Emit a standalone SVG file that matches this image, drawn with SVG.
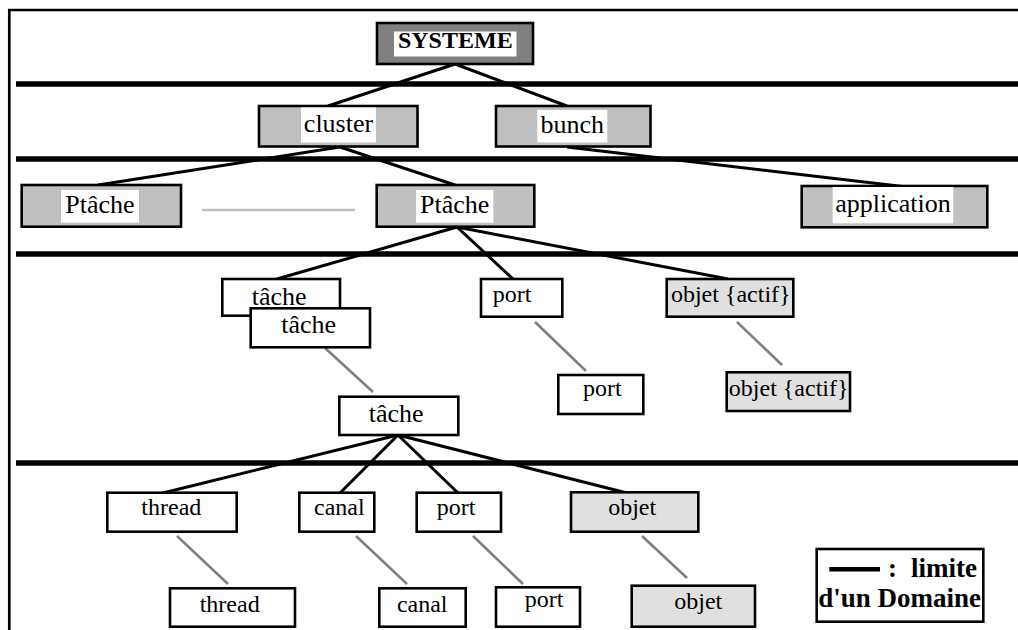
<svg xmlns="http://www.w3.org/2000/svg" width="1018" height="630" viewBox="0 0 1018 630">
  <style>
    .frame { fill: none; stroke: #000; stroke-width: 2.7; }
    .domain { stroke: #000; stroke-width: 5.5; }
    .link { stroke: #000; stroke-width: 3; fill: none; }
    .ref { stroke: #808080; stroke-width: 2.6; fill: none; }
    .sep { stroke: #c0c0c0; stroke-width: 2.6; }
    .box { stroke: #000; stroke-width: 2.6; }
    .sys { fill: #808080; }
    .grp { fill: #c0c0c0; }
    .plain { fill: #fff; }
    .obj { fill: #e0e0e0; }
    .lbl { fill: #fff; stroke: none; }
    text { font-family: "Liberation Serif", "Times New Roman", serif; fill: #000; text-anchor: middle; }
    .t26 { font-size: 26px; }
    .t24 { font-size: 24px; }
    .bold { font-weight: bold; }
  </style>

  <!-- outer frame: only top and left edges are visible -->
  <polyline class="frame" points="9.3,640 9.3,10 1030,10"/>

  <!-- domain boundaries -->
  <g id="domain-limits">
    <line class="domain" x1="16" y1="84" x2="1018" y2="84"/>
    <line class="domain" x1="16" y1="159" x2="1018" y2="159"/>
    <line class="domain" x1="16" y1="254" x2="1018" y2="254"/>
    <line class="domain" x1="16" y1="463" x2="1018" y2="463"/>
  </g>

  <!-- connectors -->
  <g id="connectors">
    <line class="link" x1="455" y1="64" x2="328" y2="106"/>
    <line class="link" x1="455" y1="64" x2="567" y2="106"/>
    <line class="link" x1="340" y1="147" x2="98" y2="185"/>
    <line class="link" x1="340" y1="147" x2="455" y2="185"/>
    <line class="link" x1="567" y1="147" x2="907" y2="187"/>
    <line class="link" x1="457" y1="227" x2="277" y2="279"/>
    <line class="link" x1="457" y1="227" x2="513" y2="279"/>
    <line class="link" x1="457" y1="227" x2="728" y2="279"/>
    <line class="link" x1="398" y1="435" x2="163" y2="493"/>
    <line class="link" x1="398" y1="435" x2="340" y2="493"/>
    <line class="link" x1="398" y1="435" x2="458" y2="493"/>
    <line class="link" x1="398" y1="435" x2="627" y2="493"/>

    <line class="sep" x1="202" y1="210" x2="355" y2="210"/>

    <line class="ref" x1="325" y1="348" x2="373" y2="392"/>
    <line class="ref" x1="535" y1="322" x2="586" y2="371"/>
    <line class="ref" x1="737" y1="322" x2="782" y2="365"/>
    <line class="ref" x1="177" y1="536" x2="228" y2="584"/>
    <line class="ref" x1="356" y1="536" x2="407" y2="584"/>
    <line class="ref" x1="473" y1="536" x2="523" y2="584"/>
    <line class="ref" x1="642" y1="536" x2="687" y2="578"/>
  </g>

  <!-- level 0 -->
  <g id="n-systeme">
    <rect class="box sys" x="377" y="23" width="156" height="41"/>
    <rect class="lbl" x="394" y="31.5" width="122.5" height="25"/>
    <text class="t24 bold" x="455.3" y="48.3">SYSTEME</text>
  </g>

  <!-- level 1 -->
  <g id="n-cluster">
    <rect class="box grp" x="259" y="106" width="158.5" height="40.5"/>
    <rect class="lbl" x="301" y="107.5" width="75" height="35"/>
    <text class="t26" x="338.5" y="131.7">cluster</text>
  </g>
  <g id="n-bunch">
    <rect class="box grp" x="496" y="106" width="154.5" height="40.5"/>
    <rect class="lbl" x="537.3" y="110" width="70" height="32.5"/>
    <text class="t26" x="572.3" y="132.7">bunch</text>
  </g>

  <!-- level 2 -->
  <g id="n-ptache-1">
    <rect class="box grp" x="21.7" y="185" width="159.3" height="41.7"/>
    <rect class="lbl" x="61" y="190" width="78" height="32.7"/>
    <text class="t26" x="100" y="213.3">Ptâche</text>
  </g>
  <g id="n-ptache-2">
    <rect class="box grp" x="376.7" y="185" width="157.6" height="41.7"/>
    <rect class="lbl" x="416" y="190" width="77.3" height="32.7"/>
    <text class="t26" x="454.7" y="213.3">Ptâche</text>
  </g>
  <g id="n-application">
    <rect class="box grp" x="801.7" y="186" width="185.6" height="41.3"/>
    <rect class="lbl" x="832.7" y="187" width="120.6" height="36.3"/>
    <text class="t26" x="893" y="211.7">application</text>
  </g>

  <!-- level 3 -->
  <g id="n-tache-1">
    <rect class="box plain" x="222.3" y="279" width="117.7" height="36.7"/>
    <text class="t26" x="279.2" y="305">tâche</text>
  </g>
  <g id="n-tache-2">
    <rect class="box plain" x="250.7" y="308.3" width="119.3" height="39"/>
    <text class="t26" x="308.7" y="333.3">tâche</text>
  </g>
  <g id="n-port-1">
    <rect class="box plain" x="481" y="279" width="81.3" height="37.7"/>
    <text class="t24" x="512" y="301.7">port</text>
  </g>
  <g id="n-objet-actif-1">
    <rect class="box obj" x="666.7" y="279" width="126.6" height="37.7"/>
    <text class="t24" x="730.8" y="301.7">objet {actif}</text>
  </g>
  <g id="n-port-2">
    <rect class="box plain" x="558.3" y="375" width="85" height="39"/>
    <text class="t24" x="602.3" y="396">port</text>
  </g>
  <g id="n-objet-actif-2">
    <rect class="box obj" x="726.7" y="372.3" width="123.3" height="38.7"/>
    <text class="t24" x="788.7" y="396">objet {actif}</text>
  </g>
  <g id="n-tache-3">
    <rect class="box plain" x="339.3" y="396.7" width="119" height="38.3"/>
    <text class="t26" x="396.2" y="421.7">tâche</text>
  </g>

  <!-- level 4 -->
  <g id="n-thread-1">
    <rect class="box plain" x="107.3" y="492.7" width="129.4" height="39"/>
    <text class="t24" x="171.3" y="515">thread</text>
  </g>
  <g id="n-canal-1">
    <rect class="box plain" x="299.3" y="492.7" width="75" height="39"/>
    <text class="t24" x="339.3" y="515">canal</text>
  </g>
  <g id="n-port-3">
    <rect class="box plain" x="416.7" y="492.7" width="84.3" height="39"/>
    <text class="t24" x="456.2" y="515">port</text>
  </g>
  <g id="n-objet-1">
    <rect class="box obj" x="571" y="492.3" width="127.3" height="39.4"/>
    <text class="t24" x="632.2" y="515">objet</text>
  </g>
  <g id="n-thread-2">
    <rect class="box plain" x="170" y="588.3" width="125" height="38.4"/>
    <text class="t24" x="229.7" y="611.7">thread</text>
  </g>
  <g id="n-canal-2">
    <rect class="box plain" x="379.3" y="588.3" width="86.4" height="38.4"/>
    <text class="t24" x="422.2" y="611.7">canal</text>
  </g>
  <g id="n-port-4">
    <rect class="box plain" x="496" y="587.3" width="84" height="39.4"/>
    <text class="t24" x="544.2" y="606.7">port</text>
  </g>
  <g id="n-objet-2">
    <rect class="box obj" x="631.7" y="585.7" width="123.3" height="41"/>
    <text class="t24" x="698.3" y="609.3">objet</text>
  </g>

  <!-- legend -->
  <g id="legend">
    <rect class="box plain" x="816.7" y="549" width="166.6" height="72.7"/>
    <line stroke="#000" stroke-width="4.5" x1="829.3" y1="569.3" x2="880" y2="569.3"/>
    <text class="bold" x="888" y="577" font-size="27" style="text-anchor:start">: <tspan x="911">limite</tspan></text>
    <text class="bold" x="981" y="607.3" font-size="27" style="text-anchor:end">d'un Domaine</text>
  </g>
</svg>
